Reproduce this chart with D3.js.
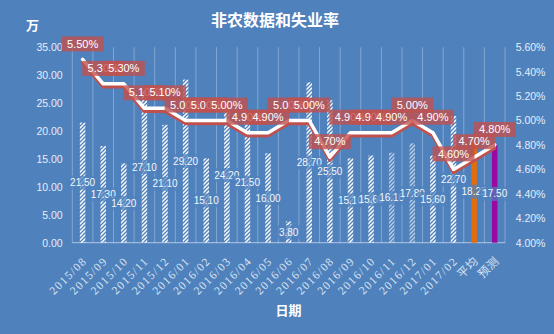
<!DOCTYPE html>
<html><head><meta charset="utf-8">
<script src="https://cdn.jsdelivr.net/npm/d3@7/dist/d3.min.js"></script>
<style>
html,body{margin:0;padding:0;background:#4f81bd;}
svg{display:block;}
</style></head>
<body>
<svg id="chart" width="554" height="334"></svg>
<script>
const categories = ["2015/08","2015/09","2015/10","2015/11","2015/12","2016/01","2016/02","2016/03","2016/04","2016/05","2016/06","2016/07","2016/08","2016/09","2016/10","2016/11","2016/12","2017/01","2017/02","平均","预测"];
const payrolls = [21.5,17.3,14.2,27.1,21.1,29.2,15.1,24.2,21.5,16.0,3.8,28.7,25.5,15.1,15.6,16.1,17.8,15.6,22.7,18.25,17.5];
const unemployment = [5.5,5.3,5.3,5.1,5.1,5.0,5.0,5.0,4.9,4.9,5.0,5.0,4.7,4.9,4.9,4.9,5.0,4.9,4.6,4.7,4.8];
const leftTicks = [0,5,10,15,20,25,30,35];
const rightTicks = [4.0,4.2,4.4,4.6,4.8,5.0,5.2,5.4,5.6];
const title = "非农数据和失业率";
const leftUnit = "万";
const xTitle = "日期";

const svg = d3.select("#chart");
const W = 554, H = 334;
const L = 72.3, R = 505, T = 47.2, B = 242.7;

svg.append("rect").attr("width",W).attr("height",H).attr("fill","#4f81bd");

const defs = svg.append("defs");
const pat = defs.append("pattern").attr("id","hatch").attr("patternUnits","userSpaceOnUse")
  .attr("width",4).attr("height",4);
pat.append("path").attr("d","M-1,1 l2,-2 M0,4 l4,-4 M3,5 l2,-2")
  .attr("stroke","#ffffff").attr("stroke-width",1.5);

const x = d3.scaleBand().domain(categories).range([L,R]).padding(0);
const yL = d3.scaleLinear().domain([0,35]).range([B,T]);
const yR = d3.scaleLinear().domain([4.0,5.6]).range([B,T]);
const cx = d => x(d) + x.bandwidth()/2;

// vertical gridlines at category boundaries
const bounds = categories.map(c => x(c)).concat([R]);
svg.append("g").selectAll("line").data(bounds).join("line")
  .attr("x1",d=>d).attr("x2",d=>d).attr("y1",T).attr("y2",B)
  .attr("stroke","rgba(255,255,255,0.3)").attr("stroke-width",1);
svg.append("line").attr("x1",L).attr("x2",R).attr("y1",B).attr("y2",B)
  .attr("stroke","rgba(220,230,242,0.7)").attr("stroke-width",1);

// axes
const fontLatin = "Arial, 'Liberation Sans', sans-serif";
const gl = svg.append("g").attr("transform",`translate(${L},0)`)
  .call(d3.axisLeft(yL).tickValues(leftTicks).tickFormat(d3.format(".2f")).tickSize(0).tickPadding(9.6));
gl.select(".domain").remove();
gl.selectAll("text").attr("fill","#e6edf7").style("font-family",fontLatin).style("font-size","10.5px");

const gr = svg.append("g").attr("transform",`translate(${R},0)`)
  .call(d3.axisRight(yR).tickValues(rightTicks).tickFormat(d=>d.toFixed(2)+"%").tickSize(0).tickPadding(10.7));
gr.select(".domain").remove();
gr.selectAll("text").attr("fill","#e6edf7").style("font-family",fontLatin).style("font-size","10.5px");

const gx = svg.append("g").attr("transform",`translate(0,${B})`)
  .call(d3.axisBottom(x).tickSize(0).tickPadding(0));
gx.select(".domain").remove();
gx.selectAll("text")
  .attr("fill","#dce6f2")
  .style("font-family","'Liberation Serif', serif")
  .style("font-size","11.5px")
  .style("letter-spacing","1.4px")
  .attr("text-anchor","end")
  .attr("dy","0")
  .attr("y",0)
  .attr("transform","translate(5,19) rotate(-45)");
gx.selectAll(".tick text").filter(d => /[^\x00-\x7f]/.test(d))
  .style("font-family","'Noto Sans CJK SC', sans-serif").style("letter-spacing","0.5px");

// bars
const bw = 5.5;
const barColor = (i) => categories[i]==="平均" ? "#e46c0a" : (categories[i]==="预测" ? "#9a0aa3" : "url(#hatch)");
const pale = new Set(["2016/11","2016/12"]);
svg.append("g").selectAll("rect").data(payrolls).join("rect")
  .attr("x",(d,i)=>cx(categories[i]) - bw/2)
  .attr("width",bw)
  .attr("y",d=>yL(d))
  .attr("height",d=>B - yL(d))
  .attr("fill",(d,i)=>barColor(i))
  .attr("opacity",(d,i)=>pale.has(categories[i]) ? 0.6 : 1);

// bar labels
const bl = svg.append("g");
payrolls.forEach((v,i)=>{
  const px = cx(categories[i]);
  const py = (yL(v) + B)/2;
  const g = bl.append("g");
  g.append("rect").attr("x",px-15.5).attr("y",py-7).attr("width",31).attr("height",14)
    .attr("fill","rgba(79,129,189,0.72)");
  g.append("text").attr("x",px).attr("y",py+3.6).attr("text-anchor","middle")
    .attr("fill","#f2f6fb").style("font-family",fontLatin).style("font-size","10px")
    .text(v.toFixed(2));
});

// line with red shadow
const line = d3.line().x((d,i)=>cx(categories[i])).y(d=>yR(d));
svg.append("path").datum(unemployment).attr("d",line)
  .attr("transform","translate(0,3)")
  .attr("fill","none").attr("stroke","#c0504d").attr("stroke-width",3.5)
  .attr("stroke-linejoin","round").attr("stroke-linecap","round");
svg.append("path").datum(unemployment).attr("d",line)
  .attr("fill","none").attr("stroke","#ffffff").attr("stroke-width",3.5)
  .attr("stroke-linejoin","round").attr("stroke-linecap","round");

// line labels
const ll = svg.append("g");
unemployment.forEach((v,i)=>{
  const px = cx(categories[i]);
  const py = yR(v);
  const g = ll.append("g");
  g.append("rect").attr("x",px-21).attr("y",py-8-15).attr("width",42).attr("height",15)
    .attr("fill","rgba(192,80,77,0.8)");
  g.append("text").attr("x",px).attr("y",py-8-3.8).attr("text-anchor","middle")
    .attr("fill","#ffffff").style("font-family",fontLatin).style("font-size","11px")
    .text(v.toFixed(2)+"%");
});

// titles
const cjk = "'Noto Sans CJK SC', sans-serif";
svg.append("text").attr("x",275).attr("y",26).attr("text-anchor","middle")
  .attr("fill","#ffffff").style("font-family",cjk).style("font-size","16px").style("font-weight","bold")
  .text(title);
svg.append("text").attr("x",26).attr("y",30)
  .attr("fill","#ffffff").style("font-family",cjk).style("font-size","13px").style("font-weight","bold")
  .text(leftUnit);
svg.append("text").attr("x",288.5).attr("y",315).attr("text-anchor","middle")
  .attr("fill","#ffffff").style("font-family",cjk).style("font-size","13px").style("font-weight","bold")
  .text(xTitle);
</script>
</body></html>
